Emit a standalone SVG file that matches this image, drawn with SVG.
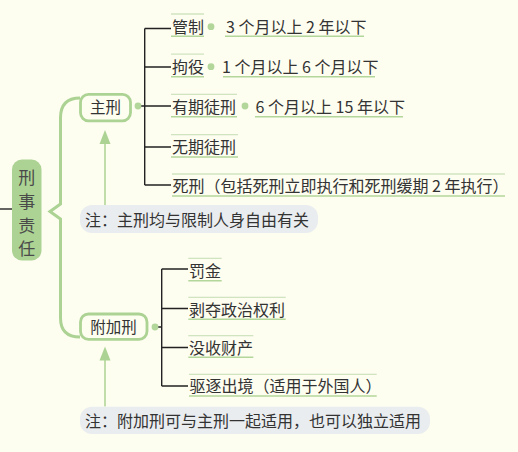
<svg xmlns="http://www.w3.org/2000/svg" width="518" height="452" viewBox="0 0 518 452">
<style>
text{font-family:"Noto Sans CJK SC","Noto Sans",sans-serif;fill:#333;}
.c{font-size:16px;}
.m{font-size:15.5px;}
.n{font-size:16px;}
.r{font-size:17px;fill:#4a4a4a;}
.tl{stroke:#cfe4bf;stroke-width:1.3;fill:none;}
.bl{stroke:#b3d69a;stroke-width:1.5;fill:none;}
.k{stroke:#222;stroke-width:1.4;fill:none;}
.dot{fill:#b3d69a;}
.box{fill:#fdfdf0;stroke:#acd393;stroke-width:2.8;}
.note{fill:#eaedef;}
.g{stroke:#acd393;fill:none;}
</style>
<rect width="518" height="452" fill="#fdfdf0"/>
<g id="connectors">
  <line class="k" x1="0" y1="209" x2="12" y2="209"/>
  <path class="g" stroke-width="3" d="M80 98 Q60.5 98 60.5 118 L60.5 204 L50 211.5 L60.5 219 L60.5 318 Q60.5 337 80 337"/>
  <path class="k" d="M138 106 H144.7 M144.7 28.5 V185 M144.7 28.5 H171 M144.7 67 H171 M144.7 106 H171 M144.7 147 H171 M144.7 185 H171"/>
  <path class="k" d="M155 327 H161.7 M161.7 269 V386 M161.7 269 H188 M161.7 308.5 H188 M161.7 347.5 H188 M161.7 386 H188"/>
  <line class="g" stroke-width="1.5" x1="105" y1="205" x2="105" y2="140"/>
  <polygon fill="#acd393" points="105,130 99.5,144 110.5,144"/>
  <line class="g" stroke-width="1.5" x1="105" y1="406.5" x2="105" y2="357"/>
  <polygon fill="#acd393" points="105,346.5 99.5,360.5 110.5,360.5"/>
</g>
<g id="root">
  <rect x="12" y="159.5" width="29.5" height="101" rx="10" fill="#acd393"/>
  <text class="r" x="26.8" y="184" text-anchor="middle">刑</text>
  <text class="r" x="26.8" y="208" text-anchor="middle">事</text>
  <text class="r" x="26.8" y="231.5" text-anchor="middle">责</text>
  <text class="r" x="26.8" y="255" text-anchor="middle">任</text>
</g>
<g id="zhuxing">
  <rect class="box" x="80.5" y="94.3" width="50" height="26.5" rx="8"/>
  <text class="m" x="105.5" y="113" text-anchor="middle">主刑</text>
  <circle class="dot" cx="138" cy="106" r="3.4"/>
</g>
<g id="fujiaxing">
  <rect class="box" x="80.5" y="314" width="66.5" height="25.3" rx="8"/>
  <text class="m" x="113.5" y="332.5" text-anchor="middle">附加刑</text>
  <circle class="dot" cx="155" cy="327" r="3.4"/>
</g>
<g id="guanzhi">
  <line class="tl" x1="171" y1="14" x2="204" y2="14"/>
  <line class="bl" x1="171" y1="36.2" x2="204" y2="36.2"/>
  <text class="c" x="172" y="32.5">管制</text>
  <circle class="dot" cx="211" cy="26.7" r="3.4"/>
  <line class="bl" x1="225" y1="36.2" x2="364" y2="36.2"/>
  <text class="c" x="226" y="32.5">3 个月以上 2 年以下</text>
</g>
<g id="juyi">
  <line class="tl" x1="171" y1="54.2" x2="204" y2="54.2"/>
  <line class="bl" x1="171" y1="76.8" x2="204" y2="76.8"/>
  <text class="c" x="172" y="73">拘役</text>
  <circle class="dot" cx="211" cy="66.7" r="3.4"/>
  <line class="bl" x1="223" y1="76.8" x2="375" y2="76.8"/>
  <text class="c" x="222" y="73">1 个月以上 6 个月以下</text>
</g>
<g id="youqi">
  <line class="tl" x1="171" y1="94.3" x2="237" y2="94.3"/>
  <line class="bl" x1="171" y1="116.7" x2="237" y2="116.7"/>
  <text class="c" x="172" y="112.5">有期徒刑</text>
  <circle class="dot" cx="245" cy="106" r="3.4"/>
  <line class="bl" x1="255" y1="116.7" x2="403" y2="116.7"/>
  <text class="c" x="255.5" y="112.5">6 个月以上 15 年以下</text>
</g>
<g id="wuqi">
  <line class="tl" x1="171" y1="134.7" x2="238" y2="134.7"/>
  <line class="bl" x1="171" y1="157" x2="238" y2="157"/>
  <text class="c" x="172" y="153">无期徒刑</text>
</g>
<g id="sixing">
  <line class="tl" x1="172" y1="174" x2="505" y2="174"/>
  <line class="bl" x1="172" y1="196" x2="505" y2="196"/>
  <text class="c" x="172.5" y="192">死刑（包括死刑立即执行和死刑缓期 2 年执行）</text>
</g>
<g id="note1">
  <rect class="note" x="80" y="205" width="238" height="28" rx="12"/>
  <text class="n" x="85" y="225.5">注：主刑均与限制人身自由有关</text>
</g>
<g id="fajin">
  <line class="tl" x1="188.3" y1="258.3" x2="221.7" y2="258.3"/>
  <line class="bl" x1="188.3" y1="280.7" x2="221.7" y2="280.7"/>
  <text class="c" x="189" y="276.8">罚金</text>
</g>
<g id="boduo">
  <line class="tl" x1="188.3" y1="297.3" x2="285.7" y2="297.3"/>
  <line class="bl" x1="188.3" y1="319.3" x2="285.7" y2="319.3"/>
  <text class="c" x="189" y="315.5">剥夺政治权利</text>
</g>
<g id="moshou">
  <line class="tl" x1="188.3" y1="335.7" x2="253.3" y2="335.7"/>
  <line class="bl" x1="188.3" y1="357.3" x2="253.3" y2="357.3"/>
  <text class="c" x="189" y="353.5">没收财产</text>
</g>
<g id="quzhu">
  <line class="tl" x1="189" y1="374.3" x2="376.7" y2="374.3"/>
  <line class="bl" x1="189" y1="396" x2="376.7" y2="396"/>
  <text class="c" x="189.5" y="392">驱逐出境（适用于外国人）</text>
</g>
<g id="note2">
  <rect class="note" x="80" y="406.7" width="350" height="27.3" rx="12"/>
  <text class="n" x="85" y="426.5">注：附加刑可与主刑一起适用，也可以独立适用</text>
</g>
</svg>
